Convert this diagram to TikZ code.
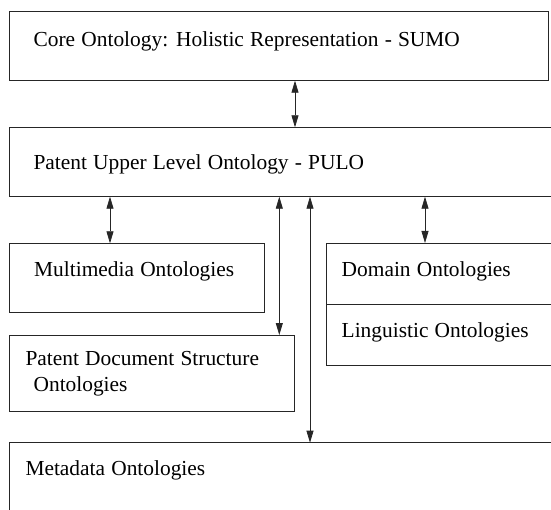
\documentclass[tikz,border=0pt]{standalone}
\usepackage{fontspec}
\setmainfont{Liberation Serif}[WordSpace=1.16]
\usetikzlibrary{arrows.meta}
\tikzset{
  box/.style={draw=black!85, line width=0.8pt, rectangle, inner sep=0pt, outer sep=0pt},
  lbl/.style={anchor=base west, inner sep=0pt, font=\fontsize{21.4pt}{25pt}\selectfont},
  link/.style={draw=black!85, line width=0.8pt, {Triangle[length=12pt,width=7pt]}-{Triangle[length=12pt,width=7pt]}, shorten <=0pt, shorten >=0pt}
}
\begin{document}
\begin{tikzpicture}[x=1pt,y=-1pt]
\useasboundingbox (0,0) rectangle (551,510);
\clip (0,0) rectangle (551,510);
% boxes
\node[box, minimum width=538.9pt, minimum height=69pt] (core) at (279.25,46.2) {};
\node[box, minimum width=555.2pt, minimum height=69.4pt] (pulo) at (287.4,162) {};
\node[box, minimum width=254.2pt, minimum height=68.7pt] (mm) at (136.9,277.65) {};
\node[box, minimum width=284.5pt, minimum height=76.5pt] (pds) at (152.05,373.25) {};
\node[box, minimum width=239pt, minimum height=61.3pt] (dom) at (445.5,273.65) {};
\node[box, minimum width=239pt, minimum height=61.4pt] (lin) at (445.5,335) {};
\node[box, minimum width=555.2pt, minimum height=87.3pt] (meta) at (287.4,486.35) {};
% labels
\node[lbl] (tcore) at (33.4,46.6) {Core Ontology: Holistic Representation - SUMO};
\node[lbl] (tpulo) at (33.3,169.3) {Patent Upper Level Ontology - PULO};
\node[lbl] (tmm) at (34,276.7) {Multimedia Ontologies};
\node[lbl] (tdom) at (341.5,276.7) {Domain Ontologies};
\node[lbl] (tlin) at (341.5,337.5) {Linguistic Ontologies};
\node[lbl] (tpds) at (25.3,365) {Patent Document Structure};
\node[lbl] (tpdsb) at (33.4,391.7) {Ontologies};
\node[lbl] (tmeta) at (25.3,475) {Metadata Ontologies};
% arrow x positions
\coordinate (xa) at (295,0);
\coordinate (xb) at (110,0);
\coordinate (xc) at (279.3,0);
\coordinate (xd) at (310,0);
\coordinate (xe) at (425,0);
% connectors
\draw[link] (core.south -| xa) -- (pulo.north -| xa);
\draw[link] (pulo.south -| xb) -- (mm.north -| xb);
\draw[link] (pulo.south -| xc) -- (pds.north -| xc);
\draw[link] (pulo.south -| xd) -- (meta.north -| xd);
\draw[link] (pulo.south -| xe) -- (dom.north -| xe);
\end{tikzpicture}
\end{document}
